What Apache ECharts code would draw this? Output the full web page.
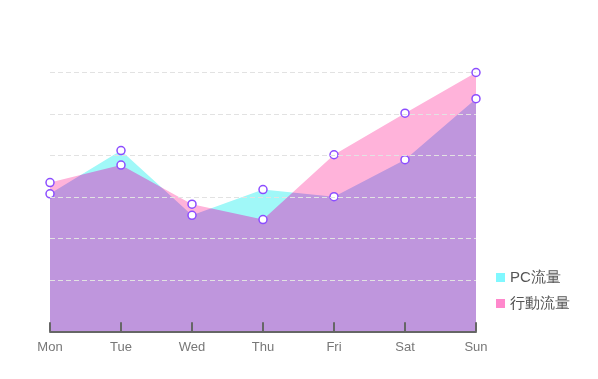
<!DOCTYPE html>
<html>
<head>
<meta charset="utf-8">
<script src="https://cdn.jsdelivr.net/npm/echarts@6/dist/echarts.min.js"></script>
<style>
  html, body { margin: 0; padding: 0; background: #fff; }
  #chart { width: 598px; height: 379px; }
</style>
</head>
<body>
<div id="chart"></div>
<script>
// ---- data ----
const categories = ['Mon', 'Tue', 'Wed', 'Thu', 'Fri', 'Sat', 'Sun'];
const pcTraffic = [308, 412, 256, 318, 301, 390, 537];      // PC流量
const mobileTraffic = [335, 377, 283, 246, 402, 502, 600];  // 行動流量
const seriesNames = ['PC流量', '行動流量'];
const yMin = 0, yMax = 600, yInterval = 100;
const areaBase = -23.6;

const chart = echarts.init(document.getElementById('chart'), null, { renderer: 'canvas' });

const pinkArea = '#ffb3da';
const cyanArea = '#a0f8f8';
const overlapArea = '#bf96dd';
const pinkLegend = '#ff88cc';
const cyanLegend = '#80f8ff';
const ringColor = '#8c4dff';

function areaSeries(name, data, color, blend, z) {
  const s = {
    name: name,
    type: 'line',
    data: data,
    showSymbol: false,
    symbol: 'none',
    clip: false,
    silent: true,
    z: z,
    lineStyle: { width: 0, color: color },
    itemStyle: { color: color },
    areaStyle: { color: color, opacity: 1, origin: areaBase },
    emphasis: { disabled: true }
  };
  if (blend) s.blendMode = blend;
  return s;
}
function symbolSeries(name, data) {
  return {
    name: name,
    type: 'line',
    data: data,
    clip: false,
    z: 4,
    symbol: 'circle',
    symbolSize: 8,
    showSymbol: true,
    lineStyle: { width: 0, opacity: 0 },
    itemStyle: { color: '#ffffff', borderColor: ringColor, borderWidth: 1.5 }
  };
}

chart.setOption({
  animation: false,
  grid: { left: 50, right: 122, top: 72.5, bottom: 57.3, containLabel: false },
  legend: {
    orient: 'vertical',
    left: 491,
    top: 265,
    itemWidth: 9,
    itemHeight: 9,
    itemGap: 11,
    icon: 'rect',
    textStyle: { fontSize: 15, color: '#555', fontFamily: 'sans-serif' },
    data: [
      { name: seriesNames[0], itemStyle: { color: cyanLegend, borderWidth: 0 } },
      { name: seriesNames[1], itemStyle: { color: pinkLegend, borderWidth: 0 } }
    ]
  },
  xAxis: {
    type: 'category',
    data: categories,
    boundaryGap: false,
    offset: 10,
    z: 5,
    axisLine: { onZero: false, lineStyle: { color: '#666', width: 2 } },
    axisTick: { inside: true, length: 9.5, lineStyle: { color: '#666', width: 2 } },
    axisLabel: { color: '#777', fontSize: 13, margin: 9, fontFamily: 'sans-serif' },
    splitLine: { show: false }
  },
  yAxis: {
    type: 'value',
    min: yMin,
    max: yMax,
    interval: yInterval,
    z: 5,
    axisLine: { show: false },
    axisTick: { show: false },
    axisLabel: { show: false },
    splitLine: {
      show: true,
      showMinLine: false,
      lineStyle: { color: '#e2e2e2', width: 1, type: [5, 3] }
    }
  },
  series: [
    // pink area drawn first on a transparent canvas
    areaSeries(seriesNames[1], mobileTraffic, pinkArea, null, 1),
    // overlap colour: cyan shape painted only where pink already exists
    areaSeries(seriesNames[0], pcTraffic, overlapArea, 'source-atop', 1.1),
    // cyan-only part: cyan shape painted behind what is already there
    areaSeries(seriesNames[0], pcTraffic, cyanArea, 'destination-over', 1.2),
    symbolSeries(seriesNames[1], mobileTraffic),
    symbolSeries(seriesNames[0], pcTraffic)
  ]
});
</script>
</body>
</html>
